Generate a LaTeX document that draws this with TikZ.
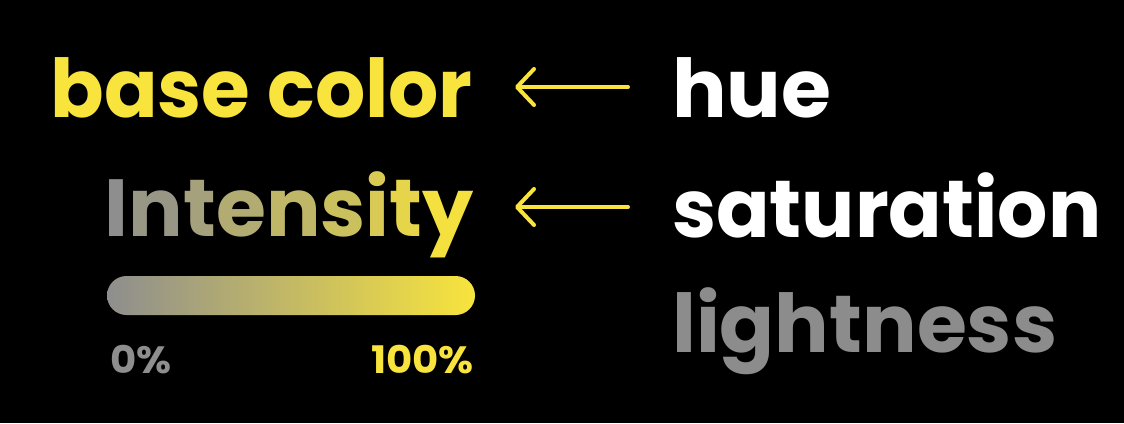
\documentclass[tikz,border=0pt]{standalone}
\usepackage{fontspec}
\setmainfont{Poppins}
\usetikzlibrary{arrows.meta}
\definecolor{yel}{HTML}{F8E43C}
\definecolor{gry}{HTML}{8E8E8E}
\definecolor{lgry}{HTML}{8C8C8C}
\newcommand\narrow[1]{\scalebox{0.975}[1]{#1}}
\tikzset{
  big/.style={inner sep=0pt, font=\fontsize{81}{90}\selectfont\bfseries},
  small/.style={inner sep=0pt, font=\fontsize{38}{40}\selectfont\bfseries},
  conn/.style={draw=yel, line width=4pt, line cap=round, -{Straight Barb[length=17pt,width=36pt,round]}},
}
\begin{document}
\begin{tikzpicture}[x=1pt,y=-1pt]
\fill[black] (0,0) rectangle (1124,423);
\useasboundingbox (0,0) rectangle (1124,423);
\node[big, text=yel, anchor=base east] (base) at (473,117) {\narrow{base color}};
\node[big, text=white, anchor=base west] (hue) at (672,117) {hue};
\node[big, anchor=base east] (int) at (474,236) {%
{\color{gry}I}{\color{gry!90!yel}n}{\color{gry!78!yel}t}{\color{gry!66!yel}e}{\color{gry!54!yel}n}{\color{gry!42!yel}s}{\color{gry!30!yel}i}{\color{gry!17!yel}t}{\color{gry!4!yel}y}};
\node[big, text=white, anchor=base west] (sat) at (672,237) {\narrow{saturation}};
\node[big, text=lgry, anchor=base west] (light) at (672,352) {lightness};
\shade[left color=gry, right color=yel, rounded corners=19.5pt] (107,276) rectangle (475,315);
\node[small, text=gry, anchor=base west] (p0) at (110,373) {\scalebox{1.06}[1]{0\%}};
\node[small, text=yel, anchor=base east] (p100) at (474,373) {\scalebox{1.06}[1]{100\%}};
\coordinate (a1s) at (628,87);
\coordinate (a1e) at (515,87);
\coordinate (a2s) at (628,207);
\coordinate (a2e) at (515,207);
\draw[conn] (a1s) -- (a1e);
\draw[conn] (a2s) -- (a2e);
\end{tikzpicture}
\end{document}
